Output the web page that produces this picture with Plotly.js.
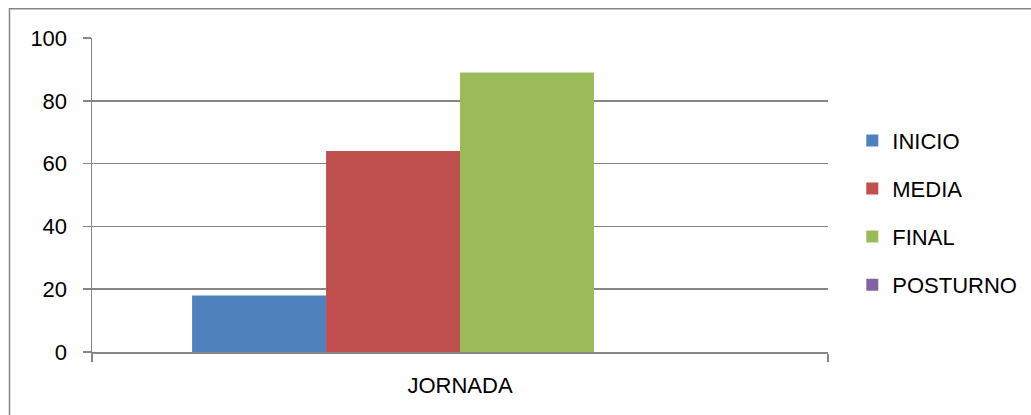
<!DOCTYPE html>
<html>
<head>
<meta charset="utf-8">
<script src="https://cdn.plot.ly/plotly-3.0.1.min.js"></script>
<style>
  html, body { margin: 0; padding: 0; background: #fff; }
  #chart { width: 1031px; height: 415px; }
</style>
</head>
<body>
<div id="chart"></div>
<script>
// Shift counts for the single working-day category
const categories = ["JORNADA"];
const seriesNames = ["INICIO", "MEDIA", "FINAL", "POSTURNO"];
const inicio = [18];
const media = [64];
const final = [89];
const posturno = [0];
const yTicks = [0, 20, 40, 60, 80, 100];

const colors = ["#4F81BD", "#C0504D", "#9BBB59", "#8064A2"];
const seriesValues = [inicio, media, final, posturno];

const traces = seriesNames.map((name, i) => ({
  type: "bar",
  name: name,
  x: categories,
  y: seriesValues[i],
  marker: { color: colors[i], line: { width: 0 } },
  legendgroup: name,
  hoverinfo: "name+y"
}));

const gray = "#868686";
const font = { family: "Liberation Sans, Arial, sans-serif", size: 22, color: "#000" };

const layout = {
  width: 1031,
  height: 415,
  margin: { l: 92, r: 203, t: 38, b: 63, pad: 0, autoexpand: false },
  paper_bgcolor: "#fff",
  plot_bgcolor: "#fff",
  font: font,
  barmode: "group",
  bargap: 0.272,
  bargroupgap: 0,
  showlegend: true,
  legend: {
    x: 1.033, xanchor: "left",
    y: 0.444, yanchor: "middle",
    traceorder: "grouped",
    tracegroupgap: 16.5,
    font: font,
    bgcolor: "rgba(0,0,0,0)"
  },
  xaxis: {
    type: "category",
    showline: true, linecolor: gray, linewidth: 1.5,
    ticks: "outside", tickson: "boundaries", ticklen: 8, tickcolor: gray, tickwidth: 1.5,
    showgrid: false, zeroline: false,
    tickfont: font,
    ticklabelstandoff: 13,
    fixedrange: true
  },
  yaxis: {
    range: [0, 100],
    tickvals: yTicks,
    ticktext: yTicks.map(String),
    showline: true, linecolor: gray, linewidth: 1.5,
    ticks: "outside", ticklen: 8, tickcolor: gray, tickwidth: 1.5,
    showgrid: true, gridcolor: gray, gridwidth: 1.5,
    zeroline: false,
    tickfont: font,
    ticklabelstandoff: 11,
    fixedrange: true
  },
  shapes: [{
    type: "rect", xref: "paper", yref: "paper",
    x0: -0.1121, x1: 1.3, y0: -0.25, y1: 1.093,
    line: { color: gray, width: 1.5 },
    fillcolor: "rgba(0,0,0,0)",
    layer: "below"
  }]
};

Plotly.newPlot("chart", traces, layout, { displayModeBar: false, staticPlot: true });
</script>
</body>
</html>
